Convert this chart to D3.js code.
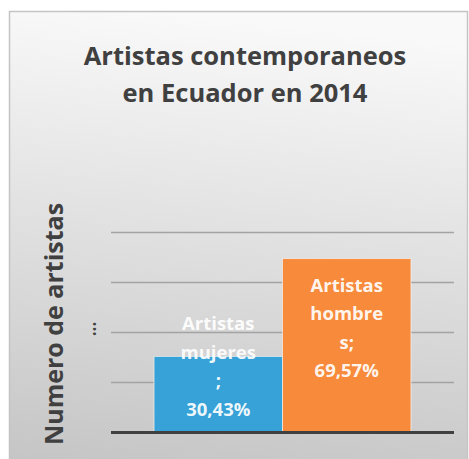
<!DOCTYPE html>
<meta charset="utf-8">
<script src="https://d3js.org/d3.v7.min.js"></script>
<style>
body { margin: 0; background: #fff; }
text { font-family: "Open Sans", Lato, sans-serif; font-weight: bold; }
</style>
<body>
<script>
// data
var series = ["Artistas mujeres", "Artistas hombres"];
var values = [30.43, 69.57];
var labelLines = [["Artistas", "mujeres", ";"], ["Artistas", "hombre", "s;"]];
var colors = ["#36a2d7", "#f88a3c"];
var gridTicks = [20, 40, 60, 80];
var titleLines = ["Artistas contemporaneos", "en Ecuador en 2014"];

var width = 469, height = 459;

var svg = d3.select("body").append("svg")
    .attr("width", width)
    .attr("height", height);

var defs = svg.append("defs");
var grad = defs.append("linearGradient")
    .attr("id", "bg")
    .attr("x1", "0.3").attr("y1", "0")
    .attr("x2", "0.2").attr("y2", "1");
grad.append("stop").attr("offset", "0").attr("stop-color", "#f9f9f9");
grad.append("stop").attr("offset", "1").attr("stop-color", "#c6c6c6");

// chart area
svg.append("rect")
    .attr("x", 9.5).attr("y", 11.5)
    .attr("width", 458).attr("height", 452)
    .attr("fill", "url(#bg)")
    .attr("stroke", "#c4c4c4")
    .attr("stroke-width", 1.5);

var x = d3.scaleBand()
    .domain(series)
    .range([111, 454])
    .paddingInner(0)
    .paddingOuter(0.335);

var y = d3.scaleLinear()
    .domain([0, 80])
    .range([432.5, 232.5]);

// gridlines
svg.append("g")
    .selectAll("line")
    .data(gridTicks)
  .enter().append("line")
    .attr("x1", 111).attr("x2", 454)
    .attr("y1", d => y(d)).attr("y2", d => y(d))
    .attr("stroke", "#a3a3a3")
    .attr("stroke-width", 1.5);

// bars
svg.append("g")
    .selectAll("rect")
    .data(values)
  .enter().append("rect")
    .attr("x", (d, i) => x(series[i]))
    .attr("y", d => y(d))
    .attr("width", x.bandwidth())
    .attr("height", d => y(0) - y(d))
    .attr("fill", (d, i) => colors[i])
    .attr("stroke", "#f2f2f2")
    .attr("stroke-opacity", 0.7)
    .attr("stroke-width", 1);

// baseline
svg.append("line")
    .attr("x1", 111).attr("x2", 454)
    .attr("y1", y(0)).attr("y2", y(0))
    .attr("stroke", "#404040")
    .attr("stroke-width", 3);

// data labels
var offsets = [-26, 33];
values.forEach(function(v, i) {
  var lines = labelLines[i].concat([v.toFixed(2).replace(".", ",") + "%"]);
  var cx = x(series[i]) + x.bandwidth() / 2;
  svg.append("text")
      .attr("text-anchor", "middle")
      .attr("fill", "#ffffff")
      .attr("fill-opacity", 0.93)
      .style("font-size", "18.5px")
    .selectAll("tspan")
      .data(lines)
    .enter().append("tspan")
      .attr("x", cx)
      .attr("y", (d, j) => y(v) + offsets[i] + j * 28.5)
      .text(d => d);
});

// title
svg.append("text")
    .attr("text-anchor", "middle")
    .attr("fill", "#404040")
    .style("font-size", "25.5px")
  .selectAll("tspan")
    .data(titleLines)
  .enter().append("tspan")
    .attr("x", 245)
    .attr("y", (d, i) => 65 + i * 36.5)
    .text(d => d);

// axis title
svg.append("text")
    .attr("transform", "translate(63,324) rotate(-90)")
    .attr("text-anchor", "middle")
    .attr("fill", "#404040")
    .style("font-size", "25px")
    .text("Numero de artistas");

svg.append("text")
    .attr("transform", "translate(96,329) rotate(-90)")
    .attr("text-anchor", "middle")
    .attr("fill", "#404040")
    .style("font-size", "17px")
    .text("...");
</script>
</body>
</html>
